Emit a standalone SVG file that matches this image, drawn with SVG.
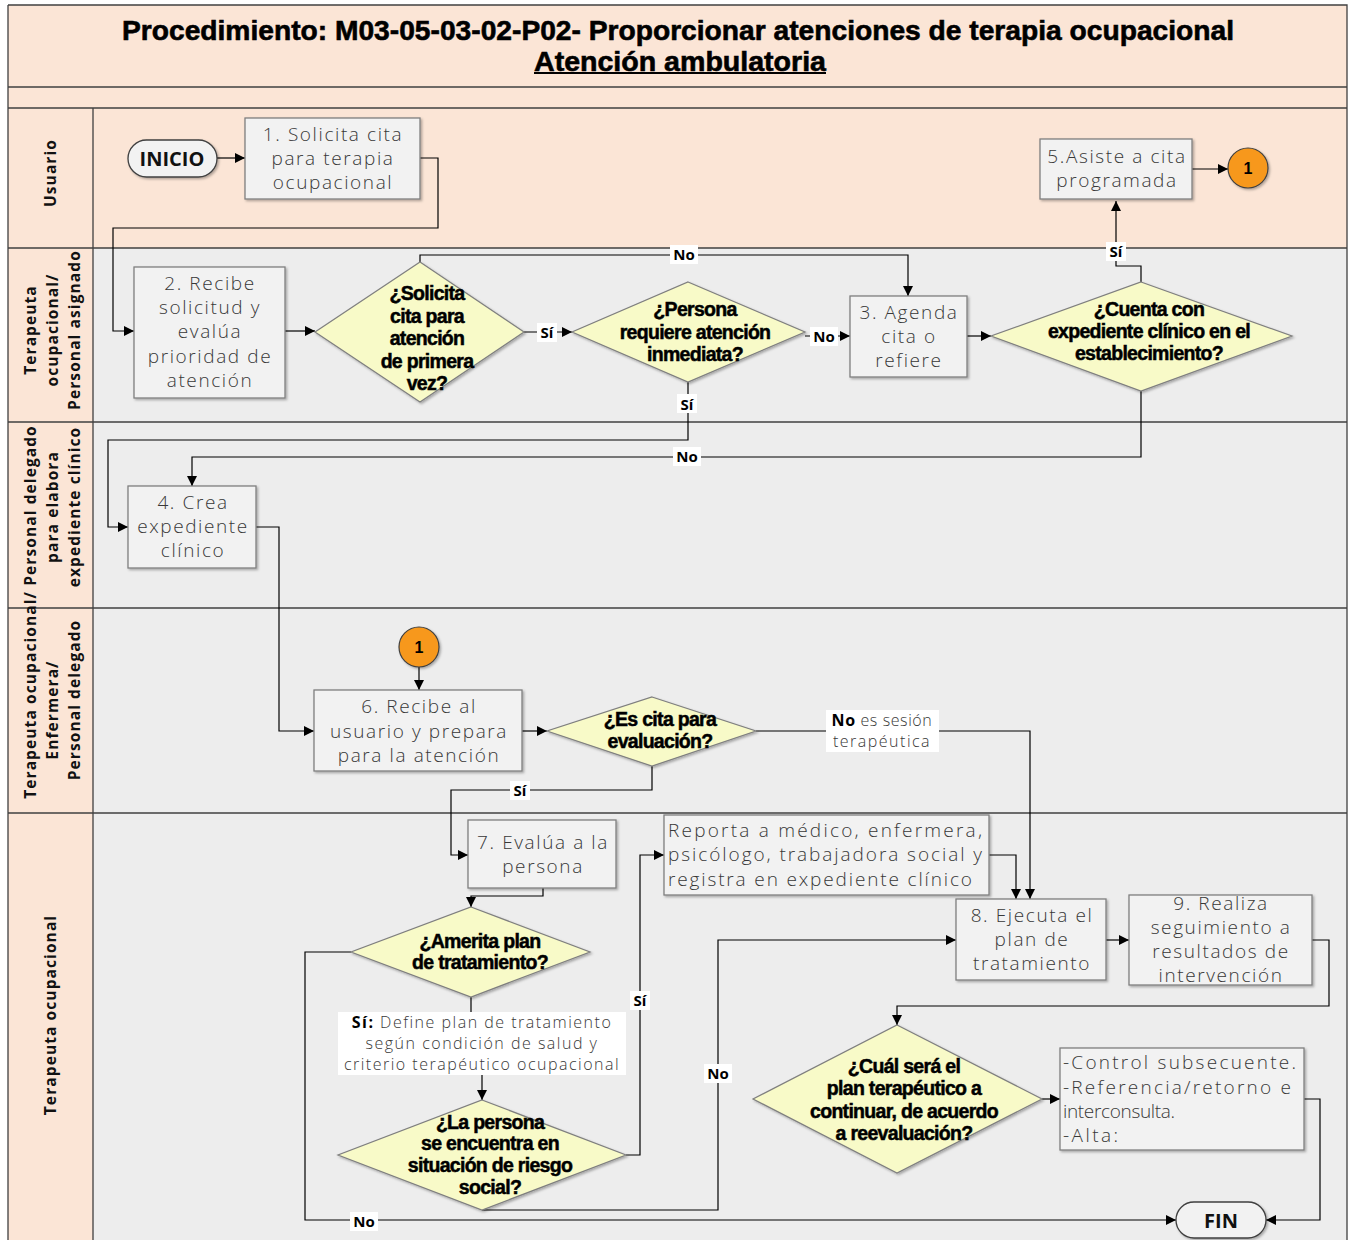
<svg xmlns="http://www.w3.org/2000/svg" width="1351" height="1240" viewBox="0 0 1351 1240">
<style>
.peach{fill:#FBE5D6}
.grey{fill:#EDEDED}
.lane{stroke:#404040;stroke-width:1.3;fill:none}
.box{fill:#F2F2F2;stroke:#7F7F7F;stroke-width:1.3;filter:url(#sh)}
.dia{fill:#F8FAC8;stroke:#7F7F7F;stroke-width:1.2;filter:url(#sh)}
.pill{fill:#F2F2F2;stroke:#404040;stroke-width:1.3;filter:url(#sh)}
.t{font-family:"Open Sans","DejaVu Sans",sans-serif;font-weight:300;font-size:19px;fill:#383838;text-anchor:middle;dominant-baseline:central;letter-spacing:1.6px}
.tl{font-family:"Open Sans","DejaVu Sans",sans-serif;font-weight:300;font-size:19px;fill:#383838;dominant-baseline:central}
.d{font-family:"Liberation Sans",Arial,sans-serif;font-weight:bold;font-size:19.5px;fill:#000;stroke:#000;stroke-width:0.5;text-anchor:middle;dominant-baseline:central;letter-spacing:-0.7px}
.lb{font-family:"Open Sans","DejaVu Sans",sans-serif;font-weight:bold;font-size:15px;fill:#000;text-anchor:middle;dominant-baseline:central}
.ln{font-family:"Open Sans","DejaVu Sans",sans-serif;font-weight:bold;font-size:15.5px;fill:#111;text-anchor:middle;dominant-baseline:central;letter-spacing:1.1px}
.term{font-family:"Open Sans","DejaVu Sans",sans-serif;font-weight:bold;font-size:20px;fill:#111;text-anchor:middle;dominant-baseline:central}
.s{font-family:"Open Sans","DejaVu Sans",sans-serif;font-weight:300;font-size:16px;fill:#383838;text-anchor:middle;dominant-baseline:central;letter-spacing:1.5px}
.c{fill:none;stroke:#000;stroke-width:1.2}
.lbg{fill:#fff}
.conn{fill:#F7981D;stroke:#404040;stroke-width:1.2;filter:url(#sh)}
</style>
<defs>
<marker id="a" viewBox="0 0 10 10" refX="10" refY="5" markerWidth="10" markerHeight="10" markerUnits="userSpaceOnUse" orient="auto">
<path d="M0,0 L10,5 L0,10 z" fill="#000"/>
</marker>
<filter id="sh" x="-10%" y="-10%" width="130%" height="130%">
<feDropShadow dx="1.5" dy="1.5" stdDeviation="1.2" flood-color="#000" flood-opacity="0.3"/>
</filter>
</defs>

<g id="frame">
<rect x="8" y="5" width="1339" height="103" class="peach"/>
<rect x="8" y="108" width="1339" height="140" class="peach"/>
<rect x="93" y="248" width="1254" height="992" class="grey"/>
<rect x="8" y="248" width="85" height="992" class="peach"/>
<path class="lane" d="M8,5 H1347 V1240 M8,5 V1240 M8,87 H1347 M8,108 H1347 M8,248 H1347 M8,422 H1347 M8,608 H1347 M8,813 H1347 M93,108 V1240"/>
<text x="678" y="30" font-family="'Liberation Sans',Arial,sans-serif" font-weight="bold" font-size="28" stroke="#000" stroke-width="0.6" text-anchor="middle" dominant-baseline="central" textLength="1112" lengthAdjust="spacingAndGlyphs">Procedimiento: M03-05-03-02-P02-  Proporcionar atenciones de terapia ocupacional</text>
<text x="680" y="61" font-family="'Liberation Sans',Arial,sans-serif" font-weight="bold" font-size="28" stroke="#000" stroke-width="0.6" text-anchor="middle" dominant-baseline="central" textLength="292" lengthAdjust="spacingAndGlyphs">Atención ambulatoria</text>
<line x1="534" y1="73" x2="826" y2="73" stroke="#000" stroke-width="2"/>
</g>

<g id="lane-labels">
<text class="ln" transform="translate(50,173) rotate(-90)">Usuario</text>
<text class="ln" transform="translate(30,330) rotate(-90)">Terapeuta</text>
<text class="ln" transform="translate(52,330) rotate(-90)">ocupacional/</text>
<text class="ln" transform="translate(74,330) rotate(-90)">Personal  asignado</text>
<text class="ln" transform="translate(30,612) rotate(-90)">Terapeuta ocupacional/ Personal delegado</text>
<text class="ln" transform="translate(52,507) rotate(-90)">para elabora</text>
<text class="ln" transform="translate(74,507) rotate(-90)">expediente clínico</text>
<text class="ln" transform="translate(52,710) rotate(-90)">Enfermera/</text>
<text class="ln" transform="translate(74,700) rotate(-90)">Personal delegado</text>
<text class="ln" transform="translate(50,1015) rotate(-90)">Terapeuta ocupacional</text>
</g>

<g id="connectors">
<path class="c" marker-end="url(#a)" d="M217,158 H245"/>
<path class="c" marker-end="url(#a)" d="M420,158 H438 V228 H113 V331 H134"/>
<path class="c" marker-end="url(#a)" d="M285,331 H315"/>
<path class="c" marker-end="url(#a)" d="M524,332 H572"/>
<path class="c" marker-end="url(#a)" d="M420,262 V255 H908 V296"/>
<path class="c" marker-end="url(#a)" d="M805,336 H850"/>
<path class="c" marker-end="url(#a)" d="M688,382 V440 H108 V527 H128"/>
<path class="c" marker-end="url(#a)" d="M967,336 H991"/>
<path class="c" marker-end="url(#a)" d="M1141,282 V266 H1116 V201"/>
<path class="c" marker-end="url(#a)" d="M1141,391 V457 H192 V486"/>
<path class="c" marker-end="url(#a)" d="M1192,169 H1228"/>
<path class="c" marker-end="url(#a)" d="M256,527 H279 V731 H314"/>
<path class="c" marker-end="url(#a)" d="M419,667 V690"/>
<path class="c" marker-end="url(#a)" d="M522,731 H547"/>
<path class="c" marker-end="url(#a)" d="M756,731 H1030 V899"/>
<path class="c" marker-end="url(#a)" d="M652,766 V790 H451 V855 H468"/>
<path class="c" marker-end="url(#a)" d="M543,888 V896 H471 V907"/>
<path class="c" marker-end="url(#a)" d="M351,952 H305 V1220 H1176"/>
<path class="c" d="M471,997 V1012"/>
<path class="c" marker-end="url(#a)" d="M482,1075 V1100"/>
<path class="c" marker-end="url(#a)" d="M626,1155 H640 V855 H664"/>
<path class="c" marker-end="url(#a)" d="M482,1210 H718 V940 H956"/>
<path class="c" marker-end="url(#a)" d="M989,855 H1016 V899"/>
<path class="c" marker-end="url(#a)" d="M1106,940 H1129"/>
<path class="c" marker-end="url(#a)" d="M1312,940 H1329 V1006 H897 V1025"/>
<path class="c" marker-end="url(#a)" d="M1042,1099 H1060"/>
<path class="c" marker-end="url(#a)" d="M1304,1099 H1320 V1220 H1266"/>
<rect class="lbg" x="670" y="245" width="28" height="19"/><text class="lb" x="684" y="254">No</text>
<rect class="lbg" x="537" y="323" width="20" height="19"/><text class="lb" x="547" y="332">Sí</text>
<rect class="lbg" x="810" y="327" width="28" height="19"/><text class="lb" x="824" y="336">No</text>
<rect class="lbg" x="677" y="394" width="20" height="19"/><text class="lb" x="687" y="404">Sí</text>
<rect class="lbg" x="1106" y="242" width="20" height="19"/><text class="lb" x="1116" y="251">Sí</text>
<rect class="lbg" x="673" y="447" width="28" height="19"/><text class="lb" x="687" y="456">No</text>
<rect class="lbg" x="510" y="781" width="20" height="19"/><text class="lb" x="520" y="790">Sí</text>
<rect class="lbg" x="630" y="991" width="20" height="19"/><text class="lb" x="640" y="1000">Sí</text>
<rect class="lbg" x="704" y="1064" width="28" height="19"/><text class="lb" x="718" y="1073">No</text>
<rect class="lbg" x="350" y="1212" width="28" height="19"/><text class="lb" x="364" y="1221">No</text>
<rect class="lbg" x="826" y="710" width="113" height="42"/>
<text class="s" x="882" y="720" style="letter-spacing:0.6px"><tspan font-weight="bold" fill="#000">No</tspan> es sesión</text>
<text class="s" x="882" y="741">terapéutica</text>
<rect class="lbg" x="338" y="1012" width="288" height="63"/>
<text class="s" x="482" y="1022"><tspan font-weight="bold" fill="#000">Sí:</tspan> Define plan de tratamiento</text>
<text class="s" x="482" y="1043">según condición de salud y</text>
<text class="s" x="482" y="1064">criterio terapéutico ocupacional</text>
</g>

<g id="inicio">
<rect class="pill" x="128" y="140" width="89" height="37" rx="18.5"/>
<text class="term" x="172" y="158">INICIO</text>
</g>
<g id="n1">
<rect class="box" x="245" y="118" width="175" height="81"/>
<text class="t" x="333" y="134">1. Solicita cita</text>
<text class="t" x="333" y="158">para terapia</text>
<text class="t" x="333" y="182">ocupacional</text>
</g>
<g id="n2">
<rect class="box" x="134" y="267" width="151" height="131"/>
<text class="t" x="210" y="283">2. Recibe</text>
<text class="t" x="210" y="307">solicitud y</text>
<text class="t" x="210" y="331">evalúa</text>
<text class="t" x="210" y="356">prioridad de</text>
<text class="t" x="210" y="380">atención</text>
</g>
<g id="d1">
<polygon class="dia" points="420,262 524,332 420,402 315,332"/>
<text class="d" x="427" y="293">¿Solicita</text>
<text class="d" x="427" y="316">cita para</text>
<text class="d" x="427" y="338">atención</text>
<text class="d" x="427" y="361">de primera</text>
<text class="d" x="427" y="383">vez?</text>
</g>
<g id="d2">
<polygon class="dia" points="688,282 805,332 688,382 572,332"/>
<text class="d" x="695" y="309">¿Persona</text>
<text class="d" x="695" y="332">requiere atención</text>
<text class="d" x="695" y="354">inmediata?</text>
</g>
<g id="n3">
<rect class="box" x="850" y="296" width="117" height="81"/>
<text class="t" x="909" y="312">3. Agenda</text>
<text class="t" x="909" y="336">cita o</text>
<text class="t" x="909" y="360">refiere</text>
</g>
<g id="d3">
<polygon class="dia" points="1141,282 1292,336 1141,391 991,336"/>
<text class="d" x="1149" y="309">¿Cuenta con</text>
<text class="d" x="1149" y="331">expediente clínico en el</text>
<text class="d" x="1149" y="353">establecimiento?</text>
</g>
<g id="n5">
<rect class="box" x="1040" y="139" width="152" height="60"/>
<text class="t" x="1117" y="156">5.Asiste a cita</text>
<text class="t" x="1117" y="180">programada</text>
</g>
<g id="c1a">
<circle class="conn" cx="1248" cy="168" r="20"/>
<text x="1248" y="168" font-family="'Liberation Sans',Arial,sans-serif" font-weight="bold" font-size="16" text-anchor="middle" dominant-baseline="central">1</text>
</g>
<g id="n4">
<rect class="box" x="128" y="486" width="128" height="82"/>
<text class="t" x="193" y="502">4. Crea</text>
<text class="t" x="193" y="526">expediente</text>
<text class="t" x="193" y="550">clínico</text>
</g>
<g id="c1b">
<circle class="conn" cx="419" cy="647" r="20"/>
<text x="419" y="647" font-family="'Liberation Sans',Arial,sans-serif" font-weight="bold" font-size="16" text-anchor="middle" dominant-baseline="central">1</text>
</g>
<g id="n6">
<rect class="box" x="314" y="690" width="208" height="81"/>
<text class="t" x="419" y="706">6. Recibe al</text>
<text class="t" x="419" y="731">usuario y prepara</text>
<text class="t" x="419" y="755">para la atención</text>
</g>
<g id="d4">
<polygon class="dia" points="652,697 756,731 652,766 547,731"/>
<text class="d" x="660" y="719">¿Es cita para</text>
<text class="d" x="660" y="741">evaluación?</text>
</g>
<g id="n7">
<rect class="box" x="468" y="820" width="148" height="68"/>
<text class="t" x="543" y="842">7. Evalúa a la</text>
<text class="t" x="543" y="866">persona</text>
</g>
<g id="d5">
<polygon class="dia" points="471,907 590,952 471,997 351,952"/>
<text class="d" x="480" y="941">¿Amerita plan</text>
<text class="d" x="480" y="962">de tratamiento?</text>
</g>
<g id="d6">
<polygon class="dia" points="482,1100 626,1155 482,1210 338,1155"/>
<text class="d" x="490" y="1122">¿La persona</text>
<text class="d" x="490" y="1143">se encuentra en</text>
<text class="d" x="490" y="1165">situación de riesgo</text>
<text class="d" x="490" y="1187">social?</text>
</g>
<g id="reporta">
<rect class="box" x="664" y="815" width="325" height="80"/>
<text class="tl" x="668" y="830" textLength="314" lengthAdjust="spacing">Reporta a médico, enfermera,</text>
<text class="tl" x="668" y="854" textLength="314" lengthAdjust="spacing">psicólogo, trabajadora social y</text>
<text class="tl" x="668" y="879" textLength="304" lengthAdjust="spacing">registra en expediente clínico</text>
</g>
<g id="n8">
<rect class="box" x="956" y="899" width="150" height="81"/>
<text class="t" x="1032" y="915">8. Ejecuta el</text>
<text class="t" x="1032" y="939">plan de</text>
<text class="t" x="1032" y="963">tratamiento</text>
</g>
<g id="n9">
<rect class="box" x="1129" y="895" width="183" height="90"/>
<text class="t" x="1221" y="903">9. Realiza</text>
<text class="t" x="1221" y="927">seguimiento a</text>
<text class="t" x="1221" y="951">resultados de</text>
<text class="t" x="1221" y="975">intervención</text>
</g>
<g id="d7">
<polygon class="dia" points="897,1025 1042,1099 897,1173 753,1099"/>
<text class="d" x="904" y="1066">¿Cuál será el</text>
<text class="d" x="904" y="1088">plan terapéutico a</text>
<text class="d" x="904" y="1111">continuar, de acuerdo</text>
<text class="d" x="904" y="1133">a reevaluación?</text>
</g>
<g id="opciones">
<rect class="box" x="1060" y="1048" width="244" height="102"/>
<text class="tl" x="1063" y="1062" textLength="233" lengthAdjust="spacing">-Control subsecuente.</text>
<text class="tl" x="1063" y="1087" textLength="228" lengthAdjust="spacing">-Referencia/retorno e</text>
<text class="tl" x="1063" y="1111" textLength="112" lengthAdjust="spacing">interconsulta.</text>
<text class="tl" x="1063" y="1135" textLength="55" lengthAdjust="spacing">-Alta:</text>
</g>
<g id="fin">
<rect class="pill" x="1176" y="1202" width="90" height="36" rx="18"/>
<text class="term" x="1221" y="1220">FIN</text>
</g>
</svg>
